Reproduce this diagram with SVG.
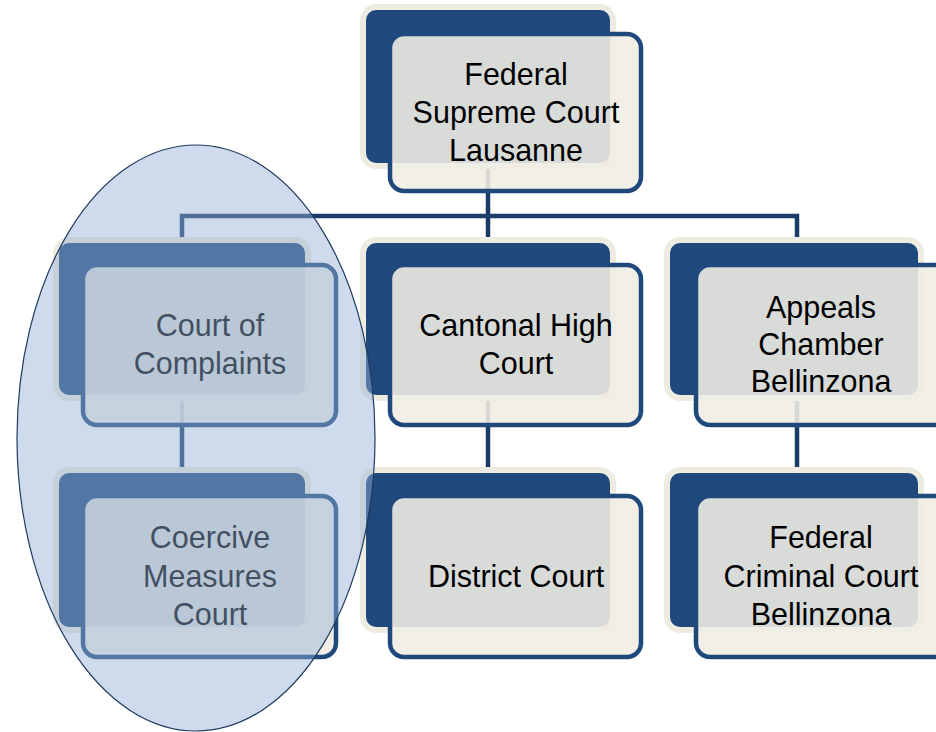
<svg xmlns="http://www.w3.org/2000/svg" width="936" height="732" viewBox="0 0 936 732">
<style>
.back{fill:#1F497D;stroke:#EEECE1;stroke-width:6}
.front{fill:#F0EDE4;fill-opacity:0.89;stroke:#1F497D;stroke-width:4.5}
.conn{fill:none;stroke:#1A3C68;stroke-width:4.5}
text{font-family:"Liberation Sans",Arial,sans-serif;font-size:30.5px;fill:#000;text-anchor:middle}
</style>
<rect width="936" height="732" fill="#fff"/>
<g id="connectors">
<path class="conn" d="M488,160 V216 M182,245 V216 H797 V245 M488,216 V245"/>
<path class="conn" d="M182,392 V476 M488,392 V476 M797,392 V476"/>
</g>
<g id="n-supreme">
<rect class="back" x="363" y="7" width="250" height="159" rx="13"/>
<rect class="front" x="390" y="34" width="251" height="157" rx="14"/>
<text x="516" y="85">Federal</text>
<text x="516" y="123">Supreme Court</text>
<text x="516" y="161">Lausanne</text>
</g>
<g id="n-complaints">
<rect class="back" x="56" y="240" width="252" height="158" rx="13"/>
<rect class="front" x="83" y="265" width="253" height="160" rx="14"/>
<text x="210" y="336">Court of</text>
<text x="210" y="374">Complaints</text>
</g>
<g id="n-cantonal">
<rect class="back" x="363" y="240" width="250" height="158" rx="13"/>
<rect class="front" x="390" y="265" width="251" height="160" rx="14"/>
<text x="516" y="336">Cantonal High</text>
<text x="516" y="374">Court</text>
</g>
<g id="n-appeals">
<rect class="back" x="667" y="240" width="254" height="158" rx="13"/>
<rect class="front" x="696" y="265" width="254" height="160" rx="14"/>
<text x="821" y="318">Appeals</text>
<text x="821" y="355">Chamber</text>
<text x="821" y="392">Bellinzona</text>
</g>
<g id="n-coercive">
<rect class="back" x="56" y="470" width="252" height="160" rx="13"/>
<rect class="front" x="83" y="496" width="253" height="161" rx="14"/>
<text x="210" y="548">Coercive</text>
<text x="210" y="587">Measures</text>
<text x="210" y="625">Court</text>
</g>
<g id="n-district">
<rect class="back" x="363" y="470" width="250" height="160" rx="13"/>
<rect class="front" x="390" y="496" width="251" height="161" rx="14"/>
<text x="516" y="587">District Court</text>
</g>
<g id="n-criminal">
<rect class="back" x="667" y="470" width="254" height="160" rx="13"/>
<rect class="front" x="696" y="496" width="254" height="161" rx="14"/>
<text x="821" y="548">Federal</text>
<text x="821" y="587">Criminal Court</text>
<text x="821" y="625">Bellinzona</text>
</g>
<g id="highlight">
<ellipse cx="196" cy="438" rx="179" ry="293" fill="#92AFD5" fill-opacity="0.45" stroke="#1F3A60" stroke-width="1.2"/>
</g>
</svg>
